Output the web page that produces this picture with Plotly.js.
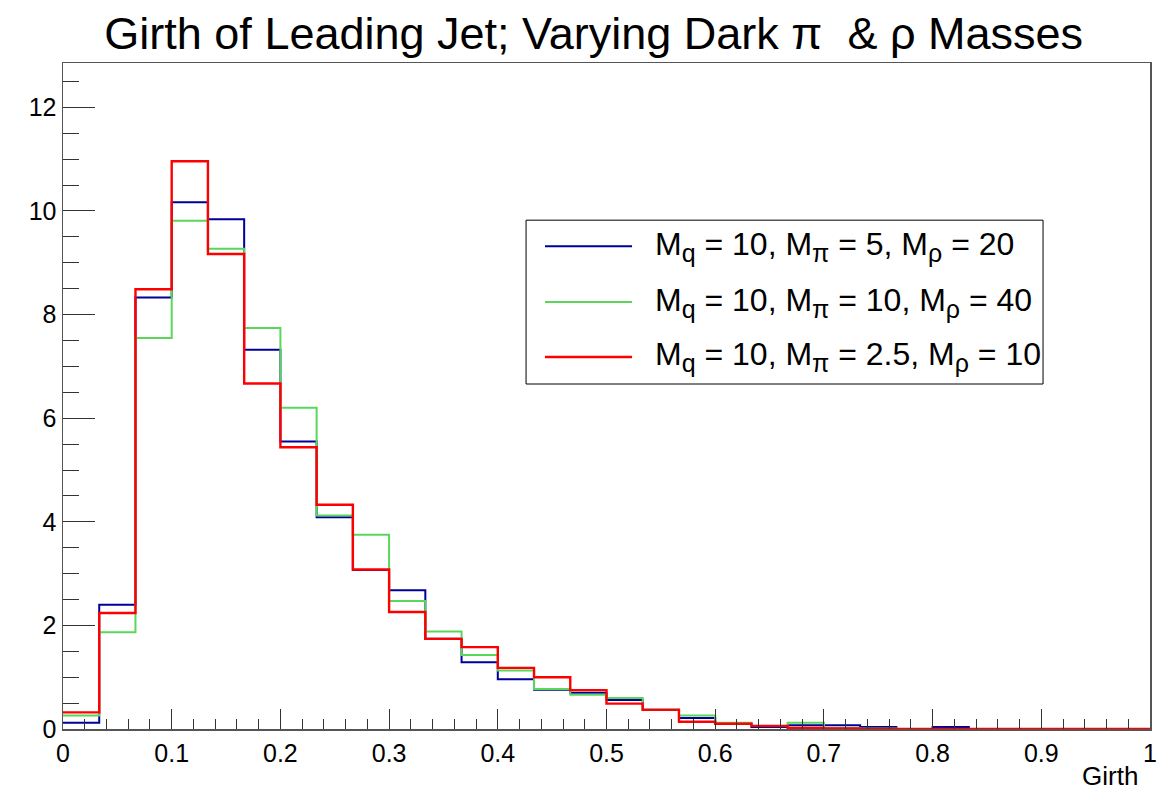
<!DOCTYPE html>
<html>
<head>
<meta charset="utf-8">
<script src="https://cdn.plot.ly/plotly-3.0.1.min.js"></script>
<style>
  html, body { margin: 0; padding: 0; background: #fff; }
  #chart { width: 1171px; height: 790px; }
</style>
</head>
<body>
<div id="chart"></div>
<script>
// Histogram definition: 30 equal bins on [0, 1]
const nBins = 30;
const xMin = 0;
const xMax = 1;

// Legend labels for each dark-sector mass point
const subStyle = "font-size:25px";
function sub(s) { return "<sub><span style='" + subStyle + "'>" + s + "</span></sub>"; }
const seriesNames = [
  "M" + sub("q") + " = 10, M" + sub("π") + " = 5, M" + sub("ρ") + " = 20",
  "M" + sub("q") + " = 10, M" + sub("π") + " = 10, M" + sub("ρ") + " = 40",
  "M" + sub("q") + " = 10, M" + sub("π") + " = 2.5, M" + sub("ρ") + " = 10"
];

// Bin contents
const blueCounts = [0.12, 2.40, 8.33, 10.17, 9.84, 7.32, 5.55, 4.09, 3.07, 2.68,
                    1.74, 1.29, 0.96, 0.76, 0.70, 0.56, 0.37, 0.21, 0.10, 0.04,
                    0.07, 0.07, 0.04, 0.00, 0.04, 0.00, 0.00, 0.00, 0.00, 0.00];
const greenCounts = [0.26, 1.87, 7.55, 9.81, 9.27, 7.74, 6.20, 4.12, 3.75, 2.47,
                     1.88, 1.43, 1.13, 0.77, 0.66, 0.60, 0.37, 0.26, 0.12, 0.06,
                     0.12, 0.02, 0.01, 0.00, 0.00, 0.00, 0.00, 0.00, 0.00, 0.00];
const redCounts = [0.32, 2.24, 8.49, 10.96, 9.17, 6.67, 5.44, 4.33, 3.08, 2.26,
                   1.74, 1.58, 1.18, 1.00, 0.75, 0.49, 0.37, 0.14, 0.10, 0.06,
                   0.02, 0.01, 0.00, 0.00, 0.00, 0.00, 0.00, 0.00, 0.00, 0.00];
const lineColors = ["#000099", "#5ad75a", "#ff0000"];
const lineWidths = [2, 2, 2.4];

// Axis tick labels
const yTickVals = [0, 2, 4, 6, 8, 10, 12];
const xTickVals = [0, 0.1, 0.2, 0.3, 0.4, 0.5, 0.6, 0.7, 0.8, 0.9, 1];
const xTickText = ["0", "0.1", "0.2", "0.3", "0.4", "0.5", "0.6", "0.7", "0.8", "0.9", "1"];

const binEdges = [];
for (let i = 0; i <= nBins; i++) binEdges.push(xMin + (xMax - xMin) * i / nBins);

// Step outline: each bin content held from its low edge to the next edge
function stepTrace(counts, color, width, name) {
  return {
    type: "scatter",
    mode: "lines",
    x: binEdges,
    y: counts.concat([counts[counts.length - 1]]),
    line: { shape: "hv", color: color, width: width },
    name: name,
    showlegend: false,
    hoverinfo: "skip"
  };
}

const traces = [
  stepTrace(blueCounts, lineColors[0], lineWidths[0], seriesNames[0]),
  stepTrace(greenCounts, lineColors[1], lineWidths[1], seriesNames[1]),
  stepTrace(redCounts, lineColors[2], lineWidths[2], seriesNames[2])
];

const font = "Liberation Sans, Arial, Helvetica, sans-serif";

// Legend box drawn in paper coordinates
const legBox = { x0: 0.426, x1: 0.9016, y0: 0.518, y1: 0.764 };
const legRows = [0.725, 0.641, 0.5586];
const legLineX = [0.4434, 0.5235];
const legTextX = 0.5428;

const shapes = [{
  type: "rect", xref: "paper", yref: "paper",
  x0: legBox.x0, x1: legBox.x1, y0: legBox.y0, y1: legBox.y1,
  line: { color: "#000", width: 1 }, fillcolor: "#fff", layer: "below"
}];
const annotations = [];
legRows.forEach((yy, i) => {
  shapes.push({
    type: "line", xref: "paper", yref: "paper",
    x0: legLineX[0], x1: legLineX[1], y0: yy, y1: yy,
    line: { color: lineColors[i], width: lineWidths[i] }
  });
  annotations.push({
    xref: "paper", yref: "paper", x: legTextX, y: yy,
    xanchor: "left", yanchor: "middle", showarrow: false,
    text: seriesNames[i],
    font: { family: font, size: 32, color: "#000" }
  });
});
annotations.push({
  xref: "paper", yref: "paper", x: 0.9908, y: -0.045,
  xanchor: "right", yanchor: "top", showarrow: false,
  text: "Girth", font: { family: font, size: 26, color: "#000" }
});

const layout = {
  width: 1171, height: 790,
  paper_bgcolor: "#fff", plot_bgcolor: "#fff",
  margin: { l: 63, r: 21, t: 63, b: 61, pad: 0 },
  showlegend: false,
  title: {
    text: "Girth of Leading Jet; Varying Dark π\u00a0 & ρ Masses",
    font: { family: font, size: 45, color: "#000" },
    xref: "container", x: 0.507, xanchor: "center",
    yref: "container", y: 0.958, yanchor: "middle"
  },
  xaxis: {
    range: [xMin, xMax], tickvals: xTickVals, ticktext: xTickText,
    ticks: "inside", ticklen: 20, tickwidth: 1, tickcolor: "#333",
    minor: { dtick: 0.02, ticks: "inside", ticklen: 10, tickwidth: 1, tickcolor: "#333", showgrid: false },
    showline: true, linecolor: "#555", linewidth: 1.5, mirror: true,
    showgrid: false, zeroline: false,
    tickfont: { family: font, size: 25, color: "#000" },
    ticklabelstandoff: 1
  },
  yaxis: {
    range: [0, 12.857], tickvals: yTickVals,
    ticks: "inside", ticklen: 32, tickwidth: 1, tickcolor: "#333",
    minor: { dtick: 0.5, ticks: "inside", ticklen: 16, tickwidth: 1, tickcolor: "#333", showgrid: false },
    showline: true, linecolor: "#555", linewidth: 1.5, mirror: true,
    showgrid: false, zeroline: false,
    tickfont: { family: font, size: 25, color: "#000" },
    ticklabelstandoff: 0
  },
  shapes: shapes,
  annotations: annotations
};

Plotly.newPlot("chart", traces, layout, { displayModeBar: false, staticPlot: true });
</script>
</body>
</html>
